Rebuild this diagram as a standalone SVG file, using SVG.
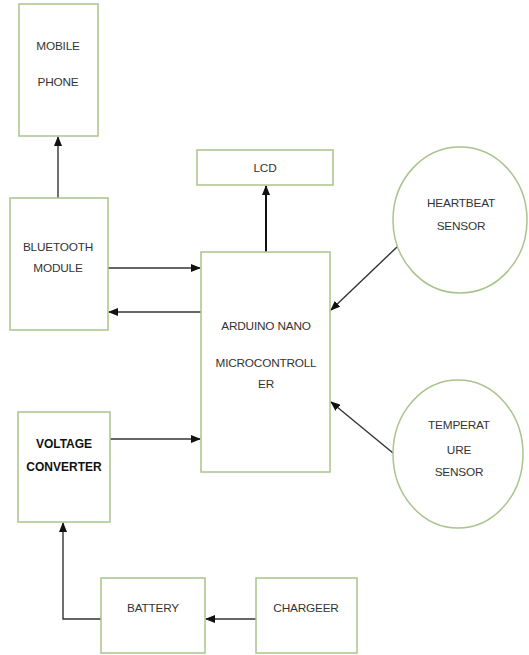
<svg xmlns="http://www.w3.org/2000/svg" width="529" height="655" viewBox="0 0 529 655">
<style>
.box{fill:#fff;stroke:#a9c48c;stroke-width:1.5}
.t{font-family:"Liberation Sans",Arial,sans-serif;font-size:11.8px;fill:#333;text-anchor:middle;letter-spacing:-0.2px}
.b{font-weight:bold;fill:#111;font-size:12px;letter-spacing:0}
.c{fill:none;stroke:#333;stroke-width:1.4}
.thick{stroke:#111;stroke-width:2}
</style>
<defs>
<marker id="ah" markerWidth="10" markerHeight="8" refX="9" refY="4" orient="auto" markerUnits="userSpaceOnUse">
<path d="M0,0 L10,4 L0,8 z" fill="#111"/>
</marker>
</defs>
<rect width="529" height="655" fill="#fff"/>
<g id="connectors">
<line class="c" x1="58" y1="198" x2="58" y2="137" marker-end="url(#ah)"/>
<line class="c thick" x1="266" y1="252" x2="266" y2="186" marker-end="url(#ah)"/>
<line class="c" x1="108" y1="268" x2="200" y2="268" marker-end="url(#ah)"/>
<line class="c" x1="201" y1="312" x2="109" y2="312" marker-end="url(#ah)"/>
<line class="c" x1="397" y1="247" x2="331" y2="310" marker-end="url(#ah)"/>
<line class="c" x1="393" y1="453" x2="331" y2="402" marker-end="url(#ah)"/>
<line class="c" x1="110" y1="439" x2="200" y2="439" marker-end="url(#ah)"/>
<line class="c" x1="256" y1="619" x2="206" y2="619" marker-end="url(#ah)"/>
<polyline class="c" points="101,619 63,619 63,523" marker-end="url(#ah)"/>
</g>
<g id="mobile">
<rect class="box" x="19" y="4" width="79" height="132"/>
<text class="t" x="58" y="50">MOBILE</text>
<text class="t" x="58" y="86">PHONE</text>
</g>
<g id="bluetooth">
<rect class="box" x="10" y="198" width="98" height="132"/>
<text class="t" x="58" y="251">BLUETOOTH</text>
<text class="t" x="58" y="272">MODULE</text>
</g>
<g id="lcd">
<rect class="box" x="197" y="150" width="136" height="35"/>
<text class="t" x="265" y="172">LCD</text>
</g>
<g id="arduino">
<rect class="box" x="201" y="252" width="129" height="220"/>
<text class="t" x="266" y="330">ARDUINO NANO</text>
<text class="t" x="266" y="367">MICROCONTROLL</text>
<text class="t" x="266" y="388">ER</text>
</g>
<g id="heartbeat">
<ellipse class="box" cx="460" cy="220" rx="67" ry="73"/>
<text class="t" x="461" y="207">HEARTBEAT</text>
<text class="t" x="461" y="230">SENSOR</text>
</g>
<g id="temperature">
<ellipse class="box" cx="458" cy="454" rx="65" ry="74"/>
<text class="t" x="459" y="429">TEMPERAT</text>
<text class="t" x="459" y="454">URE</text>
<text class="t" x="459" y="476">SENSOR</text>
</g>
<g id="voltage">
<rect class="box" x="18" y="412" width="92" height="110"/>
<text class="t b" x="64" y="448">VOLTAGE</text>
<text class="t b" x="64" y="471">CONVERTER</text>
</g>
<g id="battery">
<rect class="box" x="101" y="578" width="104" height="75"/>
<text class="t" x="153" y="612">BATTERY</text>
</g>
<g id="charger">
<rect class="box" x="256" y="578" width="101" height="75"/>
<text class="t" x="306" y="612">CHARGEER</text>
</g>
</svg>
